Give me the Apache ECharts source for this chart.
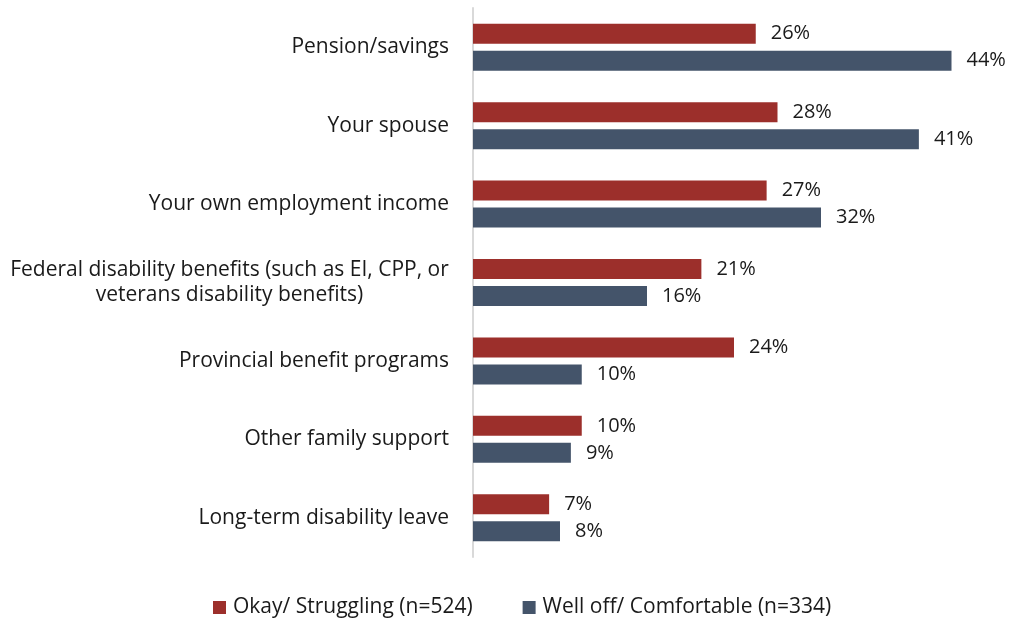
<!DOCTYPE html>
<html>
<head>
<meta charset="utf-8">
<script src="https://cdn.jsdelivr.net/npm/echarts@6/dist/echarts.min.js"></script>
<style>
  html, body { margin: 0; padding: 0; background: #fff; }
  #chart { width: 1010px; height: 620px; }
</style>
</head>
<body>
<div id="chart"></div>
<script>
// Income sources by financial situation (percent of respondents)
const categories = [
  'Pension/savings',
  'Your spouse',
  'Your own employment income',
  'Federal disability benefits (such as EI, CPP, or\nveterans disability benefits)',
  'Provincial benefit programs',
  'Other family support',
  'Long-term disability leave'
];
const seriesNames = ['Okay/ Struggling (n=524)', 'Well off/ Comfortable (n=334)'];
const okayStruggling = [26, 28, 27, 21, 24, 10, 7];
const wellOffComfortable = [44, 41, 32, 16, 10, 9, 8];

const FONT = '"Open Sans"';
const FONT_SIZE = 21;
const VALUE_SIZE = 20;
const TEXT_COLOR = '#1a1a1a';

// width of the first line of a wrapped label, so the second line can be centred under it
function measure(text) {
  const ctx = document.createElement('canvas').getContext('2d');
  ctx.font = FONT_SIZE + 'px ' + FONT;
  return Math.ceil(ctx.measureText(text).width);
}

const firstLineWidth = (() => {
  const multi = categories.find(c => c.indexOf('\n') >= 0);
  return multi ? measure(multi.split('\n')[0]) : 0;
})();

function labelFormatter(value) {
  if (value.indexOf('\n') < 0) return value;
  return value.split('\n').map(l => '{c|' + l + '}').join('\n');
}

const valueLabel = {
  show: true,
  position: 'right',
  distance: 15,
  formatter: '{c}%',
  fontSize: VALUE_SIZE,
  color: TEXT_COLOR,
  fontFamily: FONT
};

const chart = echarts.init(document.getElementById('chart'));
chart.setOption({
  animation: false,
  textStyle: { fontFamily: FONT },
  grid: { left: 473, right: 15, top: 8, bottom: 63, containLabel: false },
  legend: {
    top: 597,
    left: 213,
    padding: 0,
    itemWidth: 13,
    itemHeight: 13,
    itemGap: 50,
    icon: 'rect',
    textStyle: { fontSize: FONT_SIZE, color: TEXT_COLOR, fontFamily: FONT, padding: [0, 0, 0, 2] },
    data: seriesNames
  },
  xAxis: {
    type: 'value',
    min: 0,
    max: 48,
    show: false,
    splitLine: { show: false }
  },
  yAxis: {
    type: 'category',
    data: categories,
    inverse: true,
    axisLine: { show: true, lineStyle: { color: '#d9d9d9', width: 2 } },
    axisTick: { show: false },
    axisLabel: {
      margin: 24,
      fontSize: FONT_SIZE,
      color: TEXT_COLOR,
      fontFamily: FONT,
      lineHeight: 25,
      formatter: labelFormatter,
      rich: {
        c: { width: firstLineWidth, align: 'center', fontSize: FONT_SIZE, fontFamily: FONT, color: TEXT_COLOR, lineHeight: 25 }
      }
    }
  },
  series: [
    {
      name: seriesNames[0],
      type: 'bar',
      data: okayStruggling,
      barWidth: 20,
      barGap: '35%',
      itemStyle: { color: '#9c2f2b' },
      label: valueLabel
    },
    {
      name: seriesNames[1],
      type: 'bar',
      data: wellOffComfortable,
      barWidth: 20,
      itemStyle: { color: '#44546a' },
      label: valueLabel
    }
  ]
});
</script>
</body>
</html>
